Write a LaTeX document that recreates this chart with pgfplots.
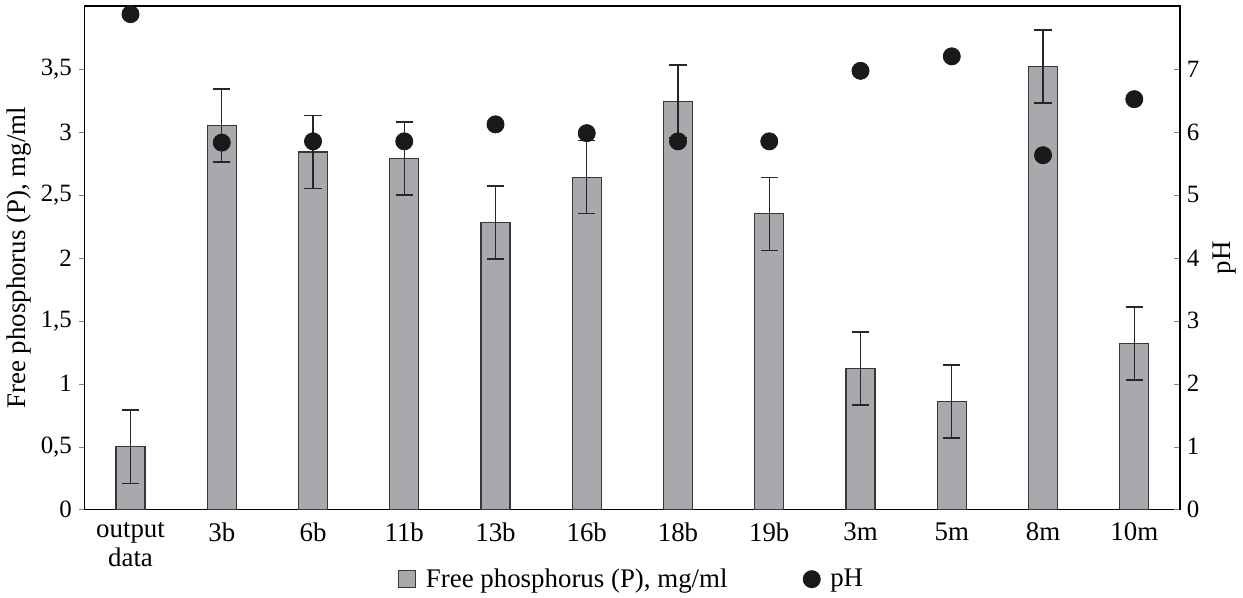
\documentclass[border=0pt]{standalone}
\usepackage{fontspec}
\setmainfont{Liberation Serif}
\usepackage{pgfplots}
\pgfplotsset{compat=1.18}
\definecolor{barfill}{RGB}{168,169,173}
\definecolor{bardraw}{RGB}{55,55,55}
\begin{document}
\begin{tikzpicture}[font=\fontsize{13.5}{14.5}\selectfont]
\begin{axis}[
  scale only axis, width=550pt, height=253pt,
  xmin=-0.5, xmax=11.5, ymin=0, ymax=4,
  xtick=data,
  xticklabels={{output\\data},3b,6b,11b,13b,16b,18b,19b,3m,5m,8m,10m},
  x tick label style={align=center},
  y tick label style={font=\fontsize{12.5}{13}\selectfont},
  major x tick style={draw=none},
  ytick={0,0.5,...,3.5}, ytick pos=left, tick align=outside,
  major tick length=3pt,
  /pgf/number format/use comma,
  /pgf/number format/assume math mode=true,
  ylabel={Free phosphorus (P), mg/ml},
  ylabel style={yshift=-2pt},
  axis line style={line width=0.6pt},
]
\addplot[ybar, bar width=14.5pt, fill=barfill, draw=bardraw, line width=0.6pt,
  error bars/.cd, y dir=both, y explicit,
  error bar style={line width=0.7pt, black!85},
  error mark options={rotate=90, mark size=4.3pt, line width=0.7pt, black!85}]
coordinates {
(0,0.50) +- (0,0.29)
(1,3.05) +- (0,0.29)
(2,2.84) +- (0,0.29)
(3,2.79) +- (0,0.29)
(4,2.28) +- (0,0.29)
(5,2.64) +- (0,0.29)
(6,3.24) +- (0,0.29)
(7,2.35) +- (0,0.29)
(8,1.12) +- (0,0.29)
(9,0.86) +- (0,0.29)
(10,3.52) +- (0,0.29)
(11,1.32) +- (0,0.29)
};
\end{axis}
\begin{axis}[
  scale only axis, width=550pt, height=253pt,
  xmin=-0.5, xmax=11.5, ymin=0, ymax=8,
  axis y line*=right, axis x line=none,
  ytick={0,1,...,7}, tick align=inside,
  y tick label style={font=\fontsize{12.5}{13}\selectfont},
  major tick length=3pt,
  /pgf/number format/assume math mode=true,
  ylabel={pH},
  axis line style={line width=0.6pt},
  legend columns=2,
  legend style={draw=none, at={(0.5,-0.138)}, anchor=center,
    /tikz/every even column/.append style={column sep=36pt},
    /tikz/every odd column/.append style={column sep=3pt}},
]
\addlegendimage{legend image code/.code={
  \draw[fill=barfill, draw=bardraw, line width=0.6pt] (0.1cm,-4.3pt) rectangle (0.1cm+8.6pt,4.3pt);}}
\addlegendentry{Free phosphorus (P), mg/ml}
\addplot[only marks, mark=*, mark size=4.3pt, color=black!90]
coordinates {
(0,7.87) (1,5.83) (2,5.85) (3,5.85) (4,6.12) (5,5.98)
(6,5.85) (7,5.85) (8,6.97) (9,7.20) (10,5.63) (11,6.52)
};
\addlegendentry{pH}
\end{axis}
\end{tikzpicture}
\end{document}
